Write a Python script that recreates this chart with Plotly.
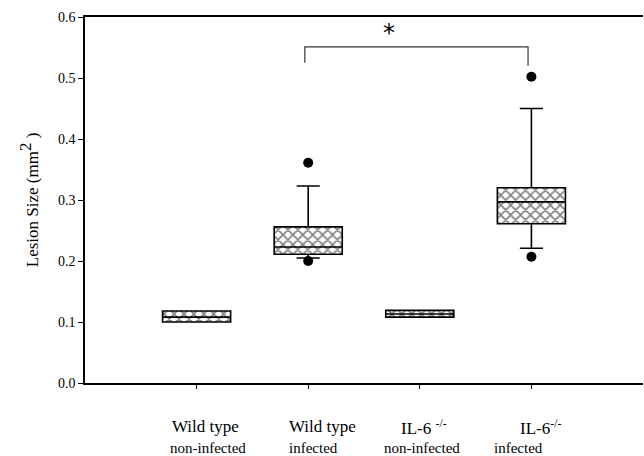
import plotly.graph_objects as go

# ---- data ----
groups = ["Wild type non-infected", "Wild type infected", "IL-6 -/- non-infected", "IL-6 -/- infected"]
positions = [1, 2, 3, 4]
q1 = [0.100, 0.211, 0.108, 0.261]
median = [0.108, 0.223, 0.113, 0.297]
q3 = [0.118, 0.256, 0.119, 0.320]
lower_whisker = [0.100, 0.205, 0.108, 0.221]
upper_whisker = [0.118, 0.323, 0.119, 0.450]
outlier_x = [2, 2, 4, 4]
outlier_y = [0.361, 0.200, 0.502, 0.207]
bracket_x = [1.97, 1.97, 3.97, 3.97]
bracket_y = [0.525, 0.551, 0.551, 0.520]
star_x = 2.72
star_y = 0.573
main_labels = ["Wild type", "Wild type", "IL-6 <sup>-/-</sup>", "IL-6<sup>-/-</sup>"]
sub_labels = ["non-infected", "infected", "non-infected", "infected"]
main_shift = [9, 14, 4, 9]
sub_shift = [11, 5, 2, -13]
y_ticks = [0.0, 0.1, 0.2, 0.3, 0.4, 0.5, 0.6]

FONT = "Liberation Serif, Times New Roman, serif"
BOXW = 0.61

fig = go.Figure()

# hatched box fill
fig.add_trace(go.Bar(
    x=positions, y=[b - a for a, b in zip(q1, q3)], base=q1, width=BOXW,
    marker=dict(color="white", line=dict(width=0),
                pattern=dict(shape="x", size=7, solidity=0.4, fgcolor="black", bgcolor="white")),
    showlegend=False, hoverinfo="skip"))

# box outlines, medians, whiskers
fig.add_trace(go.Box(
    x=positions, q1=q1, median=median, q3=q3,
    lowerfence=lower_whisker, upperfence=upper_whisker,
    width=BOXW, whiskerwidth=0.34, fillcolor="rgba(0,0,0,0)",
    line=dict(color="black", width=1.6), showlegend=False, boxpoints=False))

# outliers
fig.add_trace(go.Scatter(
    x=outlier_x, y=outlier_y, mode="markers",
    marker=dict(color="black", size=10), showlegend=False))

# significance bracket
fig.add_trace(go.Scatter(
    x=bracket_x, y=bracket_y, mode="lines",
    line=dict(color="#333333", width=1.2), showlegend=False))

annotations = [dict(x=star_x, y=star_y, xref="x", yref="y", text="*", showarrow=False,
                    font=dict(family="DejaVu Sans", size=24, color="black"))]
for p, m, s, ms, ss in zip(positions, main_labels, sub_labels, main_shift, sub_shift):
    annotations.append(dict(x=p, y=-0.12, xref="x", yref="paper", text=m, showarrow=False,
                            xshift=ms, yanchor="middle", font=dict(family=FONT, size=17, color="black")))
    annotations.append(dict(x=p, y=-0.177, xref="x", yref="paper", text=s, showarrow=False,
                            xshift=ss, yanchor="middle", font=dict(family=FONT, size=15, color="black")))
annotations.append(dict(x=-0.1, y=0.5, xref="paper", yref="paper",
                        text="Lesion Size (mm<sup><span style='font-size:17px'>2</span></sup> )",
                        textangle=-90, showarrow=False, xanchor="center", yanchor="middle",
                        font=dict(family=FONT, size=17, color="black")))

fig.update_layout(
    width=644, height=456,
    margin=dict(l=85, r=1, t=17, b=73),
    paper_bgcolor="white", plot_bgcolor="white",
    font=dict(family=FONT, size=14, color="black"),
    annotations=annotations,
    bargap=0,
)
fig.update_xaxes(range=[0, 5], tickvals=positions, showticklabels=False,
                 showgrid=False, zeroline=False, showline=True, linecolor="black", linewidth=1.5,
                 mirror=True, ticks="outside", ticklen=4, tickcolor="black")
fig.update_yaxes(range=[0, 0.6], tickvals=y_ticks, tickformat=".1f",
                 showgrid=False, zeroline=False, showline=True, linecolor="black", linewidth=1.5,
                 ticks="outside", ticklen=5, tickcolor="black", tickfont=dict(family=FONT, size=14))

fig.write_html("out.html", config={"displayModeBar": False},
               post_script="document.body.style.margin='0';document.body.style.overflow='hidden';")
